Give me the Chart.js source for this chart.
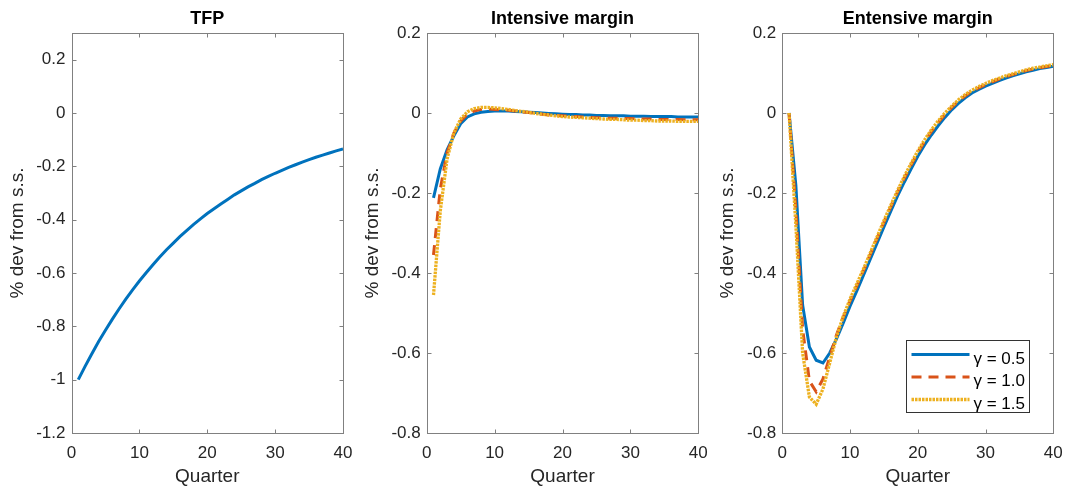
<!DOCTYPE html>
<html>
<head>
<meta charset="utf-8">
<script src="https://cdn.jsdelivr.net/npm/chart.js@4.4.0/dist/chart.umd.min.js"></script>
<style>
  body { margin: 0; background: #fff; }
  .panel { position: absolute; top: 0; }
</style>
</head>
<body>
<div class="panel" style="left:0px"><canvas id="tfpChart" width="355" height="491"></canvas></div>
<div class="panel" style="left:355px"><canvas id="intChart" width="355" height="491"></canvas></div>
<div class="panel" style="left:710px"><canvas id="extChart" width="358" height="491"></canvas></div>
<script>
const quarters = [1, 2, 3, 4, 5, 6, 7, 8, 9, 10, 11, 12, 13, 14, 15, 16, 17, 18, 19, 20,
  21, 22, 23, 24, 25, 26, 27, 28, 29, 30, 31, 32, 33, 34, 35, 36, 37, 38, 39, 40];

const tfp = [-1, -0.95, -0.9025, -0.857, -0.815, -0.774, -0.735, -0.698, -0.663, -0.63,
  -0.599, -0.569, -0.54, -0.513, -0.488, -0.463, -0.44, -0.418, -0.397, -0.377,
  -0.359, -0.341, -0.324, -0.307, -0.292, -0.277, -0.264, -0.25, -0.238, -0.226,
  -0.215, -0.204, -0.194, -0.184, -0.175, -0.166, -0.158, -0.15, -0.142, -0.135];

const intensiveG05 = [-0.212, -0.14, -0.092, -0.057, -0.027, -0.01, -0.002, 0.002, 0.004, 0.005,
  0.005, 0.005, 0.004, 0.003, 0.002, 0.001, 0, -0.001, -0.002, -0.003,
  -0.004, -0.004, -0.005, -0.005, -0.006, -0.006, -0.007, -0.007, -0.007, -0.008,
  -0.008, -0.008, -0.009, -0.009, -0.009, -0.009, -0.01, -0.01, -0.01, -0.01];
const intensiveG10 = [-0.355, -0.19, -0.1, -0.05, -0.02, -0.003, 0.005, 0.009, 0.01, 0.009,
  0.008, 0.007, 0.005, 0.003, 0.001, -0.001, -0.003, -0.005, -0.006, -0.007,
  -0.008, -0.009, -0.01, -0.011, -0.012, -0.012, -0.013, -0.013, -0.014, -0.014,
  -0.015, -0.015, -0.015, -0.016, -0.016, -0.016, -0.016, -0.017, -0.017, -0.017];
const intensiveG15 = [-0.455, -0.245, -0.115, -0.05, -0.015, 0.003, 0.011, 0.014, 0.014, 0.013,
  0.011, 0.009, 0.006, 0.004, 0.002, -0.001, -0.003, -0.005, -0.007, -0.009,
  -0.01, -0.011, -0.012, -0.013, -0.014, -0.015, -0.016, -0.016, -0.017, -0.018,
  -0.018, -0.019, -0.019, -0.02, -0.02, -0.02, -0.021, -0.021, -0.021, -0.021];

const extensiveG05 = [0, -0.18, -0.48, -0.585, -0.618, -0.625, -0.6, -0.565, -0.525, -0.483,
  -0.445, -0.405, -0.365, -0.325, -0.285, -0.246, -0.208, -0.173, -0.14, -0.108,
  -0.08, -0.055, -0.032, -0.011, 0.008, 0.024, 0.038, 0.05, 0.059, 0.067,
  0.074, 0.081, 0.087, 0.093, 0.098, 0.103, 0.107, 0.111, 0.114, 0.117];
const extensiveG10 = [0, -0.24, -0.54, -0.67, -0.697, -0.665, -0.61, -0.555, -0.51, -0.47,
  -0.432, -0.393, -0.353, -0.313, -0.273, -0.235, -0.198, -0.163, -0.13, -0.099,
  -0.071, -0.046, -0.024, -0.004, 0.014, 0.03, 0.043, 0.054, 0.063, 0.071,
  0.078, 0.085, 0.091, 0.096, 0.101, 0.106, 0.11, 0.113, 0.116, 0.119];
const extensiveG15 = [0, -0.28, -0.6, -0.71, -0.728, -0.69, -0.625, -0.56, -0.508, -0.465,
  -0.427, -0.389, -0.349, -0.309, -0.269, -0.231, -0.194, -0.159, -0.126, -0.095,
  -0.067, -0.042, -0.02, 0, 0.017, 0.033, 0.046, 0.057, 0.066, 0.074,
  0.081, 0.087, 0.093, 0.098, 0.103, 0.108, 0.112, 0.115, 0.118, 0.121];

const xTicks = [0, 10, 20, 30, 40];
const yTicksTfp = [-1.2, -1, -0.8, -0.6, -0.4, -0.2, 0, 0.2];
const yTicksMargin = [-0.8, -0.6, -0.4, -0.2, 0, 0.2];
const seriesLabels = ['\u03b3 = 0.5', '\u03b3 = 1.0', '\u03b3 = 1.5'];

const blue = '#0072BD';
const red = '#D95319';
const yellow = '#EDB120';
const axisColor = '#808080';
const tickColor = '#262626';
const fontFamily = '"Liberation Sans", Arial, Helvetica, sans-serif';

const toPoints = (vals) => quarters.map((q, i) => ({ x: q, y: vals[i] }));

// matlab style box, inward ticks, title and legend
const matlabAxes = {
  id: 'matlabAxes',
  afterDatasetsDraw(chart, args, opts) {
    const { ctx, chartArea: a, scales } = chart;
    const L = Math.round(a.left) + 0.5, R = Math.round(a.right) + 0.5;
    const T = Math.round(a.top) + 0.5, B = Math.round(a.bottom) + 0.5;
    ctx.save();
    ctx.strokeStyle = axisColor;
    ctx.lineWidth = 1;
    ctx.setLineDash([]);
    ctx.strokeRect(L, T, R - L, B - T);
    ctx.beginPath();
    scales.x.ticks.forEach(t => {
      const px = Math.round(scales.x.getPixelForValue(t.value)) + 0.5;
      ctx.moveTo(px, B); ctx.lineTo(px, B - 4);
      ctx.moveTo(px, T); ctx.lineTo(px, T + 4);
    });
    scales.y.ticks.forEach(t => {
      const py = Math.round(scales.y.getPixelForValue(t.value)) + 0.5;
      ctx.moveTo(L, py); ctx.lineTo(L + 4, py);
      ctx.moveTo(R, py); ctx.lineTo(R - 4, py);
    });
    ctx.stroke();

    ctx.fillStyle = '#000';
    ctx.font = 'bold 18px ' + fontFamily;
    ctx.textAlign = 'center';
    ctx.textBaseline = 'alphabetic';
    ctx.fillText(opts.title, (a.left + a.right) / 2, 23.5);

    if (opts.legend) {
      const w = 123, h = 72;
      const bx = Math.round(a.right - 24 - w) + 0.5;
      const by = Math.round(a.bottom - 21 - h) + 0.5;
      ctx.fillStyle = '#fff';
      ctx.fillRect(bx, by, w, h);
      ctx.strokeStyle = '#333';
      ctx.lineWidth = 1;
      ctx.strokeRect(bx, by, w, h);
      chart.data.datasets.forEach((ds, i) => {
        const y = by + 14 + i * 22.5;
        ctx.strokeStyle = ds.borderColor;
        ctx.lineWidth = ds.borderWidth;
        ctx.setLineDash(ds.borderDash || []);
        ctx.lineCap = 'butt';
        ctx.beginPath();
        ctx.moveTo(bx + 5, y);
        ctx.lineTo(bx + 63, y);
        ctx.stroke();
        ctx.setLineDash([]);
        ctx.fillStyle = '#000';
        ctx.font = '17px ' + fontFamily;
        ctx.textAlign = 'left';
        ctx.fillText(ds.label, bx + 67, y + 9);
      });
    }
    ctx.restore();
  }
};

function makeOptions(title, yMin, yMax, yTicks, rightPad, yWidth, legend) {
  return {
    responsive: false,
    animation: false,
    layout: { padding: { top: 33, right: rightPad, left: 0, bottom: 0 } },
    plugins: {
      legend: { display: false },
      tooltip: { enabled: false },
      matlabAxes: { title: title, legend: legend }
    },
    scales: {
      x: {
        type: 'linear',
        min: 0,
        max: 40,
        afterBuildTicks: (scale) => { scale.ticks = xTicks.map(v => ({ value: v })); },
        afterFit: (scale) => {
          scale.height = 58;
          scale.paddingLeft = 0;
          scale.paddingRight = 0;
        },
        grid: { display: false, drawTicks: false },
        border: { display: false },
        ticks: { padding: 10, maxRotation: 0, color: tickColor, font: { size: 17, family: fontFamily } },
        title: {
          display: true,
          text: 'Quarter',
          color: tickColor,
          padding: { top: 0, bottom: 3 },
          font: { size: 19, family: fontFamily }
        }
      },
      y: {
        min: yMin,
        max: yMax,
        afterBuildTicks: (scale) => { scale.ticks = yTicks.map(v => ({ value: v })); },
        afterFit: (scale) => {
          scale.width = yWidth;
          scale.paddingTop = 0;
          scale.paddingBottom = 0;
        },
        grid: { display: false, drawTicks: false },
        border: { display: false },
        ticks: {
          padding: 6,
          color: tickColor,
          font: { size: 17, family: fontFamily },
          callback: (v) => String(Math.round(v * 10) / 10)
        },
        title: {
          display: true,
          text: '% dev from s.s.',
          color: tickColor,
          padding: { top: 6, bottom: 0 },
          font: { size: 19, family: fontFamily }
        }
      }
    }
  };
}

const lineBase = { pointRadius: 0, tension: 0, fill: false, borderWidth: 3 };

new Chart(document.getElementById('tfpChart'), {
  type: 'line',
  data: {
    datasets: [{ ...lineBase, label: 'TFP', data: toPoints(tfp), borderColor: blue }]
  },
  options: makeOptions('TFP', -1.2, 0.3, yTicksTfp, 12, 71.5, false),
  plugins: [matlabAxes]
});

function marginDatasets(g05, g10, g15) {
  return [
    { ...lineBase, label: seriesLabels[0], data: toPoints(g05), borderColor: blue, order: 2 },
    { ...lineBase, label: seriesLabels[1], data: toPoints(g10), borderColor: red, borderDash: [10, 7], order: 1 },
    { ...lineBase, label: seriesLabels[2], data: toPoints(g15), borderColor: yellow, borderWidth: 3.3, borderDash: [2.5, 1], order: 0 }
  ];
}

new Chart(document.getElementById('intChart'), {
  type: 'line',
  data: { datasets: marginDatasets(intensiveG05, intensiveG10, intensiveG15) },
  options: makeOptions('Intensive margin', -0.8, 0.2, yTicksMargin, 11.7, 71.7, false),
  plugins: [matlabAxes]
});

new Chart(document.getElementById('extChart'), {
  type: 'line',
  data: { datasets: marginDatasets(extensiveG05, extensiveG10, extensiveG15) },
  options: makeOptions('Entensive margin', -0.8, 0.2, yTicksMargin, 14.7, 72.3, true),
  plugins: [matlabAxes]
});
</script>
</body>
</html>
